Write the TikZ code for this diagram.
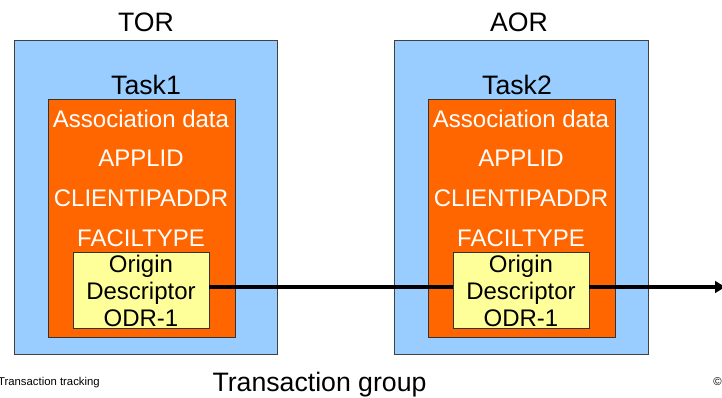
\documentclass[tikz,border=0pt]{standalone}
\usepackage{fontspec}
\setmainfont{Liberation Sans}
\usepackage{tikz}
\usetikzlibrary{arrows.meta, calc}

\definecolor{regionblue}{HTML}{99CCFF}
\definecolor{taskorange}{HTML}{FF6600}
\definecolor{odryellow}{HTML}{FFFF99}

\begin{document}
\begin{tikzpicture}[x=0.75pt,y=-0.75pt]
      \tikzset{region box/.style={draw=black!75, line width=0.75pt,
          fill=regionblue, inner sep=0pt, outer sep=0pt,
          minimum width=#1, minimum height=235.5pt},
        task box/.style={draw=black!80, line width=0.75pt,
          fill=taskorange, inner sep=0pt, outer sep=0pt,
          minimum width=140.25pt, minimum height=178.5pt},
        odr box/.style={draw=black!80, line width=0.75pt,
          fill=odryellow, inner sep=0pt, outer sep=0pt,
          minimum width=102pt, minimum height=57pt,
          align=center, font=\fontsize{18}{20.25}\selectfont},
        title text/.style={anchor=base, inner sep=0pt,
          font=\fontsize{20}{24}\selectfont},
        data text/.style={anchor=base, inner sep=0pt, text=white,
          font=\fontsize{18}{22}\selectfont},
        foot text/.style={anchor=base, inner sep=0pt,
          font=\fontsize{8.5}{10}\selectfont}
      }
      \useasboundingbox (0,0) rectangle (722,398);

      \node [region box=197.25pt] (TOR) at (145.5,198) {};
      \node [region box=190.5pt] (AOR) at (521,198) {};
      \node [task box] (task1) at (141.5,219) {};
      \node [task box] (task2) at (521.5,219) {};
      \node [odr box] (odr1) at (141,291) {Origin\\Descriptor\\ODR-1};
      \node [odr box] (odr2) at (521,291) {Origin\\Descriptor\\ODR-1};

      \node [title text] (TORlabel) at (146,32) {TOR};
      \node [title text] (AORlabel) at (519,32) {AOR};
      \node [title text] (task1label) at (146,95) {Task1};
      \node [title text] (task2label) at (517,95) {Task2};

      \node [data text] (assoc1) at (141,128) {Association data};
      \node [data text] (applid1) at (141,167) {APPLID};
      \node [data text] (client1) at (141,207) {CLIENTIPADDR};
      \node [data text] (facil1) at (141,247) {FACILTYPE};
      \node [data text] (assoc2) at (521,128) {Association data};
      \node [data text] (applid2) at (521,167) {APPLID};
      \node [data text] (client2) at (521,207) {CLIENTIPADDR};
      \node [data text] (facil2) at (521,247) {FACILTYPE};

      \coordinate (out) at (727,287);
      \draw [line width=3pt] (odr1.east|-0,287) -- (odr2.west|-0,287);
      \draw [line width=3pt, -{Latex[length=9pt,width=10pt]}]
      (odr2.east|-0,287) -- (out);

      \node [title text] (group) at (319.5,392) {Transaction group};
      \node [foot text, anchor=base east] (tracking) at (100,386)
      {Transaction tracking};
      \node [foot text, anchor=base west] (copy) at (713,386) {\textcopyright};
    \end{tikzpicture}
\end{document}
